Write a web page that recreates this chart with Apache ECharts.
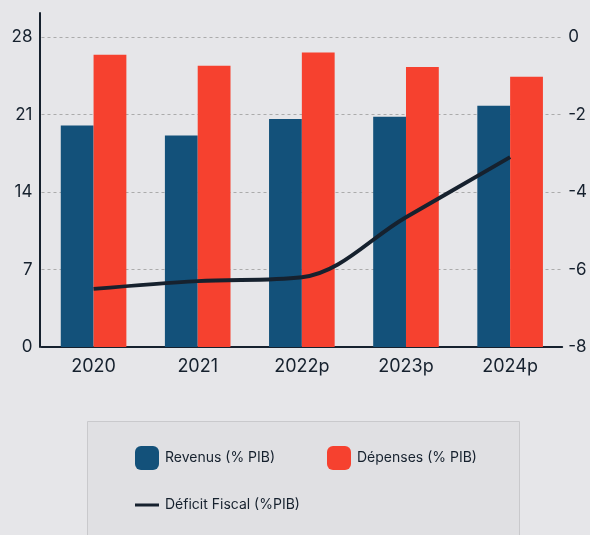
<!DOCTYPE html>
<html>
<head>
<meta charset="utf-8">
<script src="https://cdn.jsdelivr.net/npm/echarts@6/dist/echarts.min.js"></script>
<style>
  html, body { margin: 0; padding: 0; background: #e6e6e9; }
  #chart { width: 590px; height: 535px; }
</style>
</head>
<body>
<div id="chart"></div>
<script>
// Budget balance figures (share of GDP)
const categories = ['2020', '2021', '2022p', '2023p', '2024p'];
const revenus = [20.0, 19.1, 20.6, 20.8, 21.8];
const depenses = [26.4, 25.4, 26.6, 25.3, 24.4];
const deficit = [-6.5, -6.3, -6.2, -4.65, -3.1];
const leftTicks = [0, 7, 14, 21, 28];
const rightTicks = [-8, -6, -4, -2, 0];

const NAVY = '#13517a';
const RED = '#f6412f';
const INK = '#16212e';
const FONT = 'Inter';

const chart = echarts.init(document.getElementById('chart'), null, { renderer: 'canvas' });

const legendText = { fontFamily: FONT, fontSize: 14, color: INK, padding: [0, 0, 0, 1] };

chart.setOption({
  backgroundColor: '#e6e6e9',
  textStyle: { fontFamily: FONT, color: INK },
  graphic: [{
    type: 'rect',
    left: 87, top: 421,
    shape: { width: 432, height: 130 },
    style: { fill: '#e0e0e3', stroke: '#c9c9cc', lineWidth: 1 },
    z: 0
  }],
  grid: [
    { left: 41.5, right: 25, top: 37, bottom: 188 },
    // taller frame that only carries the extended left axis line
    { left: 40, right: 25, top: 13, bottom: 188 }
  ],
  legend: [
    {
      data: ['Revenus (% PIB)'], left: 135, top: 446, padding: 0,
      itemWidth: 24, itemHeight: 24, icon: 'roundRect',
      textStyle: legendText
    },
    {
      data: ['Dépenses (% PIB)'], left: 327, top: 446, padding: 0,
      itemWidth: 24, itemHeight: 24, icon: 'roundRect',
      textStyle: legendText
    },
    {
      data: ['Déficit Fiscal (%PIB)'], left: 135, top: 498, padding: 0,
      itemWidth: 24, itemHeight: 3, icon: 'rect',
      textStyle: legendText
    }
  ],
  xAxis: [
    {
      type: 'category', gridIndex: 0, data: categories,
      axisLine: { lineStyle: { color: INK, width: 2 } },
      axisTick: { show: false },
      axisLabel: { fontFamily: FONT, fontSize: 18, color: INK, margin: 11 }
    },
    { type: 'category', gridIndex: 1, data: categories, show: false }
  ],
  yAxis: [
    {
      type: 'value', gridIndex: 0, min: leftTicks[0], max: leftTicks[leftTicks.length - 1], interval: 7,
      axisLine: { show: false },
      axisTick: { show: false },
      axisLabel: { fontFamily: FONT, fontSize: 17, color: INK, margin: 9 },
      splitLine: { lineStyle: { color: '#ababab', type: [3, 3], width: 1 } }
    },
    {
      type: 'value', gridIndex: 0, position: 'right', min: rightTicks[0], max: rightTicks[rightTicks.length - 1], interval: 2,
      axisLine: { show: false },
      axisTick: { show: false },
      axisLabel: { fontFamily: FONT, fontSize: 17, color: INK, margin: 6 },
      splitLine: { show: false }
    },
    {
      type: 'value', gridIndex: 1, min: 0, max: 1,
      axisLine: { show: true, lineStyle: { color: INK, width: 2 } },
      axisTick: { show: false }, axisLabel: { show: false }, splitLine: { show: false }
    }
  ],
  series: [
    {
      name: 'Revenus (% PIB)', type: 'bar', data: revenus,
      xAxisIndex: 0, yAxisIndex: 0,
      barGap: '0%', barCategoryGap: '37%',
      itemStyle: { color: NAVY }
    },
    {
      name: 'Dépenses (% PIB)', type: 'bar', data: depenses,
      xAxisIndex: 0, yAxisIndex: 0,
      barGap: '0%', barCategoryGap: '37%',
      itemStyle: { color: RED }
    },
    {
      name: 'Déficit Fiscal (%PIB)', type: 'line', data: deficit,
      xAxisIndex: 0, yAxisIndex: 1,
      smooth: 0.35,
      symbol: 'none',
      lineStyle: { color: INK, width: 4 },
      itemStyle: { color: INK },
      z: 5
    }
  ]
});
</script>
</body>
</html>
